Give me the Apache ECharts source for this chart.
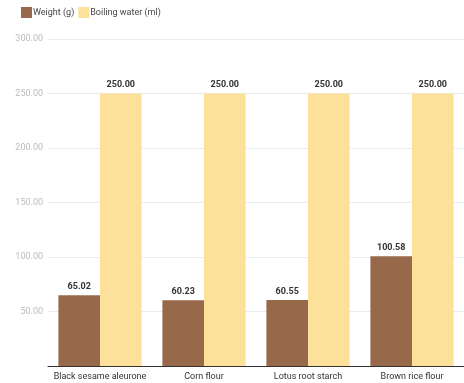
<!DOCTYPE html>
<html>
<head>
<meta charset="utf-8">
<script src="https://cdn.jsdelivr.net/npm/echarts@6/dist/echarts.min.js"></script>
<style>
  html, body { margin: 0; padding: 0; background: #fff; }
  #chart { width: 464px; height: 383px; }
</style>
</head>
<body>
<div id="chart"></div>
<script>
const categories = ['Black sesame aleurone', 'Corn flour', 'Lotus root starch', 'Brown rice flour'];
const weightValues = [65.02, 60.23, 60.55, 100.58];
const waterValues = [250.00, 250.00, 250.00, 250.00];
const seriesNames = ['Weight (g)', 'Boiling water (ml)'];

const chart = echarts.init(document.getElementById('chart'));
const font = 'Roboto, "Noto Sans", sans-serif';

const valueLabel = {
  show: true,
  position: 'top',
  distance: 4,
  color: '#333',
  fontSize: 9,
  fontWeight: 'bold',
  fontFamily: font,
  formatter: p => p.value.toFixed(2)
};

chart.setOption({
  animation: false,
  textStyle: { fontFamily: font },
  legend: {
    left: 16,
    top: 2,
    itemWidth: 11,
    itemHeight: 11,
    itemGap: 4,
    icon: 'rect',
    textStyle: { fontSize: 9, color: '#444', fontFamily: font, padding: [0, 0, 0, -4] },
    data: seriesNames
  },
  grid: { left: 48, right: 0, top: 39, bottom: 17, containLabel: false },
  xAxis: {
    type: 'category',
    data: categories,
    axisLine: { lineStyle: { color: '#333', width: 1 } },
    axisTick: { show: false },
    axisLabel: { color: '#333', fontSize: 9, margin: 6, fontFamily: font, interval: 0 }
  },
  yAxis: {
    type: 'value',
    min: 0,
    max: 300,
    interval: 50,
    axisLine: { show: false },
    axisTick: { show: false },
    splitLine: { lineStyle: { color: '#e8ecef', width: 1 } },
    axisLabel: {
      color: '#bbb',
      fontSize: 9,
      margin: 5,
      fontFamily: font,
      formatter: v => (v === 0 ? '' : v.toFixed(2))
    }
  },
  series: [
    {
      name: seriesNames[0],
      type: 'bar',
      data: weightValues,
      barGap: '0%',
      barCategoryGap: '20%',
      itemStyle: { color: '#97694a' },
      label: valueLabel
    },
    {
      name: seriesNames[1],
      type: 'bar',
      data: waterValues,
      barGap: '0%',
      barCategoryGap: '20%',
      itemStyle: { color: '#fde19b' },
      label: valueLabel
    }
  ]
});
</script>
</body>
</html>
